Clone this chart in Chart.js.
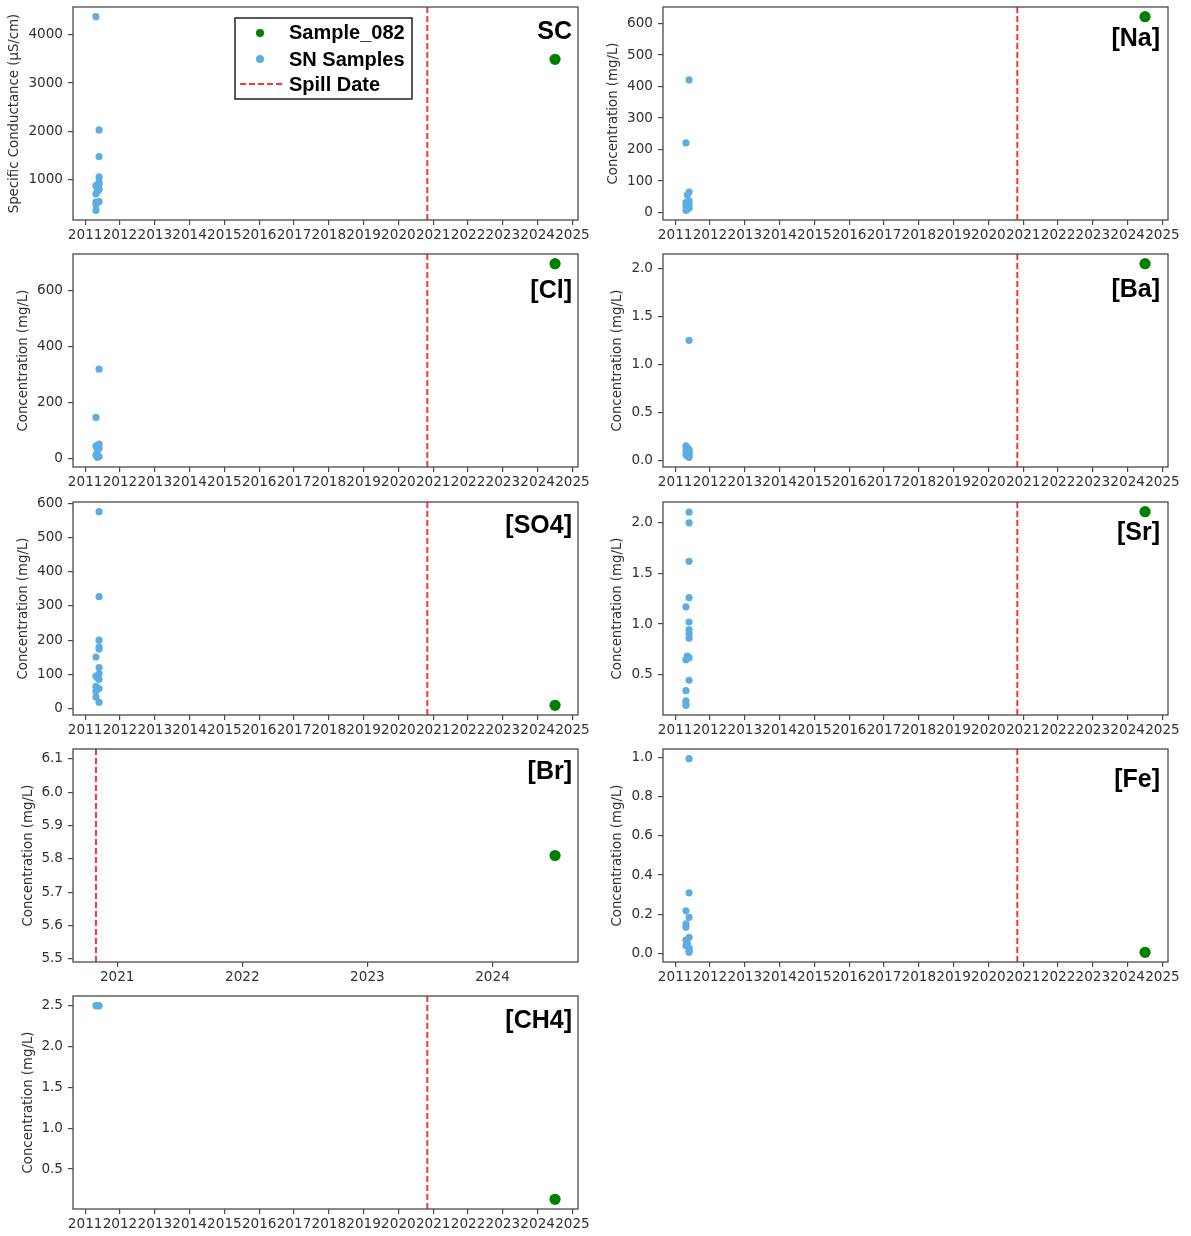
<!DOCTYPE html>
<html>
<head>
<meta charset="utf-8">
<script src="https://cdn.jsdelivr.net/npm/chart.js@4.4.0/dist/chart.umd.min.js"></script>
<style>
html, body { margin: 0; padding: 0; background: #fff; }
#wrap { position: relative; width: 1191px; height: 1236px; overflow: hidden; }
#wrap canvas { position: absolute; }
</style>
</head>
<body>
<div id="wrap"></div>
<script>
// dates are decimal years
var spillDate = 2020.83;
var sample082Date = 2024.5;

var analytes = ["SC", "[Na]", "[Cl]", "[Ba]", "[SO4]", "[Sr]", "[Br]", "[Fe]", "[CH4]"];
var sample082Values = [3490, 622, 697, 2.05, 10, 2.11, 5.81, 0.005, 0.13];

// SN samples, one pair of arrays per analyte
var snDatesSC = [2011.31, 2011.40, 2011.40, 2011.40, 2011.40, 2011.40, 2011.31, 2011.35, 2011.40, 2011.35, 2011.31, 2011.40, 2011.31, 2011.31, 2011.31];
var snSC = [4370, 2030, 1480, 1060, 960, 910, 880, 850, 800, 760, 710, 550, 540, 480, 370];

var snDatesNa = [2011.40, 2011.31, 2011.40, 2011.35, 2011.40, 2011.31, 2011.40, 2011.31, 2011.40, 2011.35, 2011.31];
var snNa = [421, 221, 65, 56, 37, 32, 26, 21, 14, 10, 7];

var snDatesCl = [2011.40, 2011.31, 2011.40, 2011.31, 2011.40, 2011.35, 2011.31, 2011.40, 2011.35];
var snCl = [319, 146, 50, 44, 35, 26, 11, 6, 3];

var snDatesBa = [2011.40, 2011.31, 2011.35, 2011.40, 2011.31, 2011.40, 2011.35, 2011.40, 2011.31, 2011.40, 2011.35, 2011.40];
var snBa = [1.25, 0.15, 0.13, 0.11, 0.10, 0.09, 0.08, 0.07, 0.06, 0.05, 0.04, 0.03];

var snDatesSO4 = [2011.40, 2011.40, 2011.40, 2011.40, 2011.40, 2011.31, 2011.40, 2011.40, 2011.31, 2011.35, 2011.40, 2011.31, 2011.40, 2011.31, 2011.31, 2011.40];
var snSO4 = [575, 327, 200, 180, 174, 151, 120, 102, 95, 91, 86, 65, 59, 51, 34, 19];

var snDatesSr = [2011.40, 2011.40, 2011.40, 2011.40, 2011.31, 2011.40, 2011.40, 2011.40, 2011.40, 2011.35, 2011.40, 2011.31, 2011.40, 2011.31, 2011.31, 2011.31, 2011.31];
var snSr = [2.105, 2.0, 1.62, 1.26, 1.17, 1.02, 0.945, 0.905, 0.86, 0.684, 0.668, 0.648, 0.444, 0.342, 0.24, 0.21, 0.197];

var snDatesBr = [];
var snBr = [];

var snDatesFe = [2011.40, 2011.40, 2011.31, 2011.40, 2011.31, 2011.31, 2011.40, 2011.31, 2011.35, 2011.31, 2011.40, 2011.40, 2011.40];
var snFe = [0.995, 0.309, 0.217, 0.184, 0.15, 0.133, 0.082, 0.068, 0.051, 0.039, 0.028, 0.014, 0.005];

var snDatesCH4 = [2011.31, 2011.35, 2011.40];
var snCH4 = [2.5, 2.5, 2.5];

var snDates = [snDatesSC, snDatesNa, snDatesCl, snDatesBa, snDatesSO4, snDatesSr, snDatesBr, snDatesFe, snDatesCH4];
var snValues = [snSC, snNa, snCl, snBa, snSO4, snSr, snBr, snFe, snCH4];

var yTitles = ["Specific Conductance (\u00b5S/cm)", "Concentration (mg/L)", "Concentration (mg/L)", "Concentration (mg/L)",
  "Concentration (mg/L)", "Concentration (mg/L)", "Concentration (mg/L)", "Concentration (mg/L)", "Concentration (mg/L)"];
var yStep = [1000, 100, 200, 0.5, 100, 0.5, 0.1, 0.2, 0.5];
var yDecimals = [0, 0, 0, 1, 0, 1, 1, 1, 1];

// layout of the 9 panels (col, row, title offset, label offset)
var layoutCfg = [
  {col: 0, row: 0, padL: 7, dy: 25},
  {col: 1, row: 0, padL: 11, dy: 32},
  {col: 0, row: 1, padL: 16, dy: 37},
  {col: 1, row: 1, padL: 15, dy: 36},
  {col: 0, row: 2, padL: 16, dy: 24},
  {col: 1, row: 2, padL: 15, dy: 31},
  {col: 0, row: 3, padL: 21, dy: 23},
  {col: 1, row: 3, padL: 15, dy: 31},
  {col: 0, row: 4, padL: 21, dy: 25}
];
var colGeom = [
  {left: 0, width: 595, plotLeft: 73, padR: 17},
  {left: 595, width: 596, plotLeft: 68, padR: 23}
];

var blue = "#5DADE2", green = "#008000", spillColor = "rgba(255,0,0,0.8)", frameColor = "#4a4a4a", textColor = "#333";

function mplLimits(vals) {
  var lo = Math.min.apply(null, vals), hi = Math.max.apply(null, vals);
  if (hi - lo < 1e-12) { lo -= 0.05 * Math.abs(lo); hi += 0.05 * Math.abs(hi); }
  var pad = 0.05 * (hi - lo);
  return [lo - pad, hi + pad];
}

// ticks at multiples of step inside [min, max]
function stepTicks(scale, step) {
  var out = [];
  var k0 = Math.ceil(scale.min / step - 1e-9), k1 = Math.floor(scale.max / step + 1e-9);
  for (var k = k0; k <= k1; k++) out.push({value: Math.round(k * step * 1e6) / 1e6});
  scale.ticks = out;
}

function noEdgePadding(s) {
  s.paddingTop = 0; s.paddingBottom = 0; s.paddingLeft = 0; s.paddingRight = 0;
}

var panelPlugin = {
  id: "panelDeco",
  afterDraw: function (chart) {
    var ctx = chart.ctx, a = chart.chartArea, o = chart.options.plugins.panelDeco;
    var xs = chart.scales.x;
    ctx.save();
    // spill date line
    var px = xs.getPixelForValue(spillDate);
    ctx.strokeStyle = spillColor;
    ctx.lineWidth = 2;
    ctx.setLineDash([6, 3]);
    ctx.beginPath(); ctx.moveTo(px, a.top); ctx.lineTo(px, a.bottom); ctx.stroke();
    ctx.setLineDash([]);
    // frame
    ctx.strokeStyle = frameColor;
    ctx.lineWidth = 1.3;
    ctx.strokeRect(a.left, a.top, a.right - a.left, a.bottom - a.top);
    // panel label
    ctx.fillStyle = "#000";
    ctx.font = "bold 25px 'Liberation Sans', Arial, sans-serif";
    ctx.textAlign = "right";
    ctx.textBaseline = "middle";
    ctx.fillText(o.label, a.right - o.labelRight, a.top + o.dy);
    // legend (first panel only)
    if (o.legend) {
      var bx = a.left + 162, by = a.top + 11, bw = 177, bh = 81;
      ctx.fillStyle = "#fff";
      ctx.fillRect(bx, by, bw, bh);
      ctx.strokeStyle = "#222";
      ctx.lineWidth = 1.5;
      ctx.strokeRect(bx, by, bw, bh);
      ctx.fillStyle = green;
      ctx.beginPath(); ctx.arc(bx + 25, by + 15, 4, 0, Math.PI * 2); ctx.fill();
      ctx.fillStyle = blue;
      ctx.beginPath(); ctx.arc(bx + 25, by + 41, 4, 0, Math.PI * 2); ctx.fill();
      ctx.strokeStyle = spillColor;
      ctx.lineWidth = 2;
      ctx.setLineDash([6, 3]);
      ctx.beginPath(); ctx.moveTo(bx + 5, by + 66); ctx.lineTo(bx + 47, by + 66); ctx.stroke();
      ctx.setLineDash([]);
      ctx.fillStyle = "#000";
      ctx.font = "bold 20px 'Liberation Sans', Arial, sans-serif";
      ctx.textAlign = "left";
      ctx.fillText("Sample_082", bx + 54, by + 15);
      ctx.fillText("SN Samples", bx + 54, by + 42);
      ctx.fillText("Spill Date", bx + 54, by + 67);
    }
    ctx.restore();
  }
};

var wrap = document.getElementById("wrap");
var tickFont = {family: "'DejaVu Sans', sans-serif", size: 13.6};
var titleFont = {family: "'DejaVu Sans', sans-serif", size: 13.3};

analytes.forEach(function (name, i) {
  var L = layoutCfg[i], G = colGeom[L.col];
  var canvas = document.createElement("canvas");
  canvas.width = G.width;
  canvas.height = 248;
  canvas.style.left = G.left + "px";
  canvas.style.top = Math.round(L.row * 247.25) + "px";
  wrap.appendChild(canvas);

  var dates = snDates[i], vals = snValues[i];
  var xl = mplLimits(dates.concat([sample082Date, spillDate]));
  var yl = mplLimits(vals.concat([sample082Values[i]]));
  var dec = yDecimals[i], step = yStep[i];
  var yWidth = G.plotLeft - L.padL;

  new Chart(canvas.getContext("2d"), {
    type: "scatter",
    data: {
      datasets: [{
        label: "SN Samples",
        data: dates.map(function (d, k) { return {x: d, y: vals[k]}; }),
        backgroundColor: blue,
        borderColor: blue,
        borderWidth: 0,
        pointRadius: 3.6
      }, {
        label: "Sample_082",
        data: [{x: sample082Date, y: sample082Values[i]}],
        backgroundColor: green,
        borderColor: green,
        borderWidth: 0,
        pointRadius: 5.6
      }]
    },
    options: {
      responsive: false,
      animation: false,
      events: [],
      layout: {padding: {left: L.padL, right: G.padR, top: 7, bottom: 0}},
      plugins: {
        legend: {display: false},
        tooltip: {enabled: false},
        panelDeco: {label: name, dy: L.dy, labelRight: L.col === 0 ? 6 : 8, legend: i === 0}
      },
      scales: {
        x: {
          type: "linear",
          min: xl[0], max: xl[1],
          afterBuildTicks: function (s) { stepTicks(s, 1); },
          afterFit: function (s) { s.height = 28; noEdgePadding(s); },
          border: {display: false},
          grid: {display: true, drawOnChartArea: false, drawTicks: true, tickLength: 5, tickColor: frameColor, lineWidth: 1.2},
          ticks: {
            autoSkip: false, maxRotation: 0, minRotation: 0,
            padding: 2, color: textColor, font: tickFont,
            callback: function (v) { return String(Math.round(v)); }
          }
        },
        y: {
          type: "linear",
          min: yl[0], max: yl[1],
          afterBuildTicks: function (s) { stepTicks(s, step); },
          afterFit: function (s) { s.width = yWidth; noEdgePadding(s); },
          border: {display: false},
          grid: {display: true, drawOnChartArea: false, drawTicks: true, tickLength: 5, tickColor: frameColor, lineWidth: 1.2},
          ticks: {
            autoSkip: false, padding: 5, color: textColor, font: tickFont,
            callback: function (v) { return Number(v).toFixed(dec); }
          },
          title: {display: true, text: yTitles[i], color: textColor, font: titleFont, padding: 0}
        }
      }
    },
    plugins: [panelPlugin]
  });
});
</script>
</body>
</html>
